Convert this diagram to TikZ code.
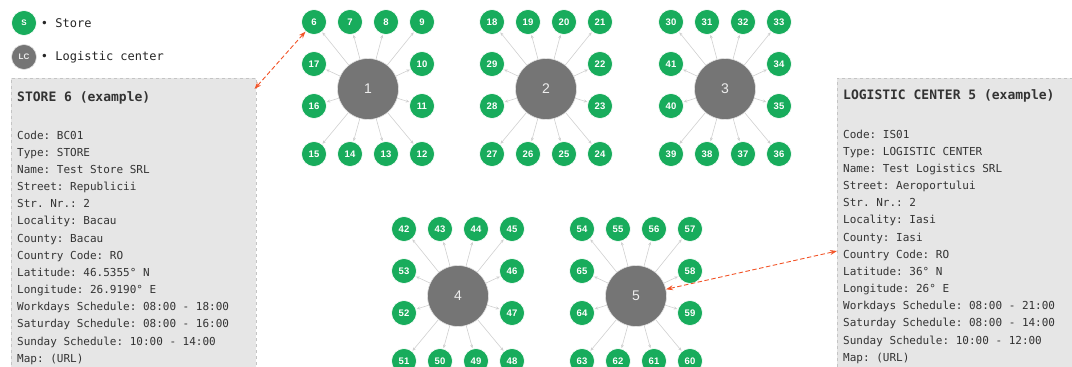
\documentclass[tikz,border=0pt]{standalone}
\usepackage{fontspec}
\setmainfont{Liberation Sans}
\setmonofont{DejaVu Sans Mono}
\usetikzlibrary{positioning,arrows.meta}
\definecolor{Store}{RGB}{24,172,92}
\definecolor{Hub}{RGB}{117,117,117}
\definecolor{Spoke}{RGB}{208,208,208}
\definecolor{Card}{RGB}{230,230,230}
\definecolor{CardLine}{RGB}{196,196,196}
\definecolor{Link}{RGB}{242,84,40}

\begin{document}
\begin{tikzpicture}[x=1pt,y=-1pt,
 s/.style={circle,fill=Store,draw=white,line width=.6pt,minimum size=25pt,inner sep=0pt,text=white,font=\fontsize{9.5}{10}\selectfont\bfseries},
 hub/.style={circle,fill=Hub,draw=white!80!Hub,line width=.6pt,minimum size=61pt,inner sep=0pt,text=white!88!Hub,font=\fontsize{14}{14}\selectfont},
 sp/.style={-{Stealth[length=3.5pt,width=3pt]},Spoke,line width=.6pt,shorten >=.5pt},
 ln/.style={{Stealth[length=7pt,width=5pt]}-{Stealth[length=7pt,width=5pt]},Link,dash pattern=on 4.5pt off 2.5pt,line width=.9pt},
 card/.style={draw=CardLine,dashed,fill=Card,line width=.5pt,anchor=north west,inner sep=0pt},
 txt/.style={anchor=north west,inner sep=0pt,align=left,text=black!80,font=\ttfamily\fontsize{11}{17.15}\selectfont},
 key/.style={anchor=west,inner sep=0pt,text=black!85,font=\ttfamily\fontsize{12}{12}\selectfont}]
\useasboundingbox (0,0) rectangle (1072,367);

% legend
\node[s,minimum size=25pt,font=\fontsize{8}{8}\selectfont\bfseries] (keyS) at (24,23) {S};
\node[key,right=4pt of keyS] (keySt) {\textbullet\ Store};
\node[hub,minimum size=25pt,font=\fontsize{8}{8}\selectfont\bfseries] (keyLC) at (24,57) {LC};
\node[key,right=4pt of keyLC] (keyLCt) {\textbullet\ Logistic center};

% info cards
\node[card,minimum width=245pt,minimum height=300pt] (store) at (11,78) {};
\node[txt] (storetxt) at (17,91) {{\fontsize{13}{17}\selectfont\bfseries STORE 6 (example)}\\[21pt]
Code: BC01\\
Type: STORE\\
Name: Test Store SRL\\
Street: Republicii\\
Str. Nr.: 2\\
Locality: Bacau\\
County: Bacau\\
Country Code: RO\\
Latitude: 46.5355° N\\
Longitude: 26.9190° E\\
Workdays Schedule: 08:00 - 18:00\\
Saturday Schedule: 08:00 - 16:00\\
Sunday Schedule: 10:00 - 14:00\\
Map: (URL)};

\node[card,minimum width=250pt,minimum height=300pt] (lccard) at (837,78) {};
\node[txt] (lctxt) at (843,89) {{\fontsize{13}{17}\selectfont\bfseries LOGISTIC CENTER 5 (example)}\\[22pt]
Code: IS01\\
Type: LOGISTIC CENTER\\
Name: Test Logistics SRL\\
Street: Aeroportului\\
Str. Nr.: 2\\
Locality: Iasi\\
County: Iasi\\
Country Code: RO\\
Latitude: 36° N\\
Longitude: 26° E\\
Workdays Schedule: 08:00 - 21:00\\
Saturday Schedule: 08:00 - 14:00\\
Sunday Schedule: 10:00 - 12:00\\
Map: (URL)};

% hubs and their stores
\foreach \h/\hx/\hy/\first in {1/368/89/6,2/546/89/18,3/725/89/30,4/458/296/42,5/636/296/54}{
  \node[hub] (h\h) at (\hx,\hy) {\h};
  \foreach \k/\dx/\dy in {0/-54/-67,1/-18/-67,2/18/-67,3/54/-67,4/54/-25,5/54/17,6/54/65,7/18/65,8/-18/65,9/-54/65,10/-54/17,11/-54/-25}{
    \pgfmathtruncatemacro{\n}{\first+\k}
    \node[s] (s\n) at (\hx+\dx,\hy+\dy) {\n};
    \draw[sp] (h\h) -- (s\n);
  }
}

% example links
\coordinate (storeTip) at ([xshift=-2pt,yshift=-11pt]store.north east);
\coordinate (lcTip) at ([yshift=-173pt]lccard.north west);
\draw[ln] (s6) -- (storeTip);
\draw[ln] (h5) -- (lcTip);
\end{tikzpicture}
\end{document}
